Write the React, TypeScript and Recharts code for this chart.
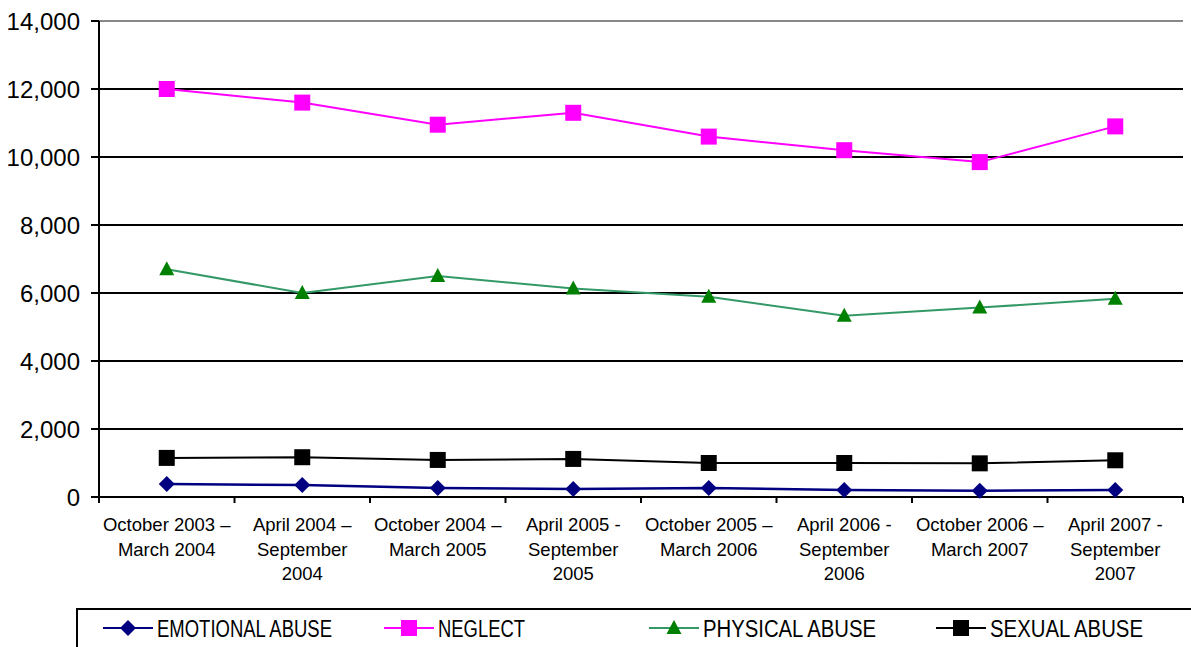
import { CartesianGrid, Line, LineChart, ReferenceLine, XAxis, YAxis } from "recharts";

const categories = [
  "October 2003 –\nMarch 2004",
  "April 2004 –\nSeptember\n2004",
  "October 2004 –\nMarch 2005",
  "April 2005 -\nSeptember\n2005",
  "October 2005 –\nMarch 2006",
  "April 2006 -\nSeptember\n2006",
  "October 2006 –\nMarch 2007",
  "April 2007 -\nSeptember\n2007",
];
const emotional = [380, 350, 265, 235, 265, 205, 185, 205];
const neglect = [12000, 11600, 10950, 11300, 10600, 10200, 9850, 10900];
const physical = [6700, 6000, 6500, 6130, 5890, 5330, 5570, 5830];
const sexual = [1150, 1170, 1090, 1120, 1000, 1000, 990, 1080];
const yTicks = [0, 2000, 4000, 6000, 8000, 10000, 12000, 14000];

const colors = {
  emotional: "#000080",
  neglect: "#ff00ff",
  physicalLine: "#339966",
  physicalDot: "#008000",
  sexual: "#000000",
};

const font = "'Liberation Sans', Arial, sans-serif";

// points sit at the middle of each category band, ticks at the band edges
const data = categories.map((c, i) => ({
  pos: i + 0.5,
  emotional: emotional[i],
  neglect: neglect[i],
  physical: physical[i],
  sexual: sexual[i],
}));
const xTicks = Array.from({ length: categories.length * 2 + 1 }, (_, i) => i / 2);

const fmt = (v: number) => new Intl.NumberFormat("en-US").format(v);

const Diamond = ({ cx, cy, index }: any) =>
  cx == null ? null : (
    <path key={index} d={`M${cx} ${cy - 8}L${cx + 8} ${cy}L${cx} ${cy + 8}L${cx - 8} ${cy}Z`} fill={colors.emotional} />
  );

const Square = (color: string) => ({ cx, cy, index }: any) =>
  cx == null ? null : <rect key={index} x={cx - 8} y={cy - 8} width={16} height={16} fill={color} />;

const Triangle = ({ cx, cy, index }: any) =>
  cx == null ? null : (
    <path key={index} d={`M${cx} ${cy - 8}L${cx + 7.5} ${cy + 6}L${cx - 7.5} ${cy + 6}Z`} fill={colors.physicalDot} />
  );

const XTick = ({ x, y, payload }: any) => {
  const v = payload.value as number;
  if (Number.isInteger(v)) {
    return <line x1={x} x2={x} y1={y} y2={y + 6} stroke="#000" strokeWidth={2} />;
  }
  const lines = categories[Math.floor(v)].split("\n");
  return (
    <text x={x} y={y} textAnchor="middle" fontSize={18.5} fontFamily={font} fill="#000">
      {lines.map((l, i) => (
        <tspan key={i} x={x} dy={i === 0 ? 34 : 24.5}>
          {l}
        </tspan>
      ))}
    </text>
  );
};

const legendItems = [
  { label: "EMOTIONAL ABUSE", x: 103, w: 175, color: colors.emotional, marker: "diamond" },
  { label: "NEGLECT", x: 384, w: 87, color: colors.neglect, marker: "square" },
  { label: "PHYSICAL ABUSE", x: 649, w: 173, color: colors.physicalLine, marker: "triangle" },
  { label: "SEXUAL ABUSE", x: 936, w: 153, color: colors.sexual, marker: "square" },
];

const LegendMarker = ({ cx, cy, kind, color }: { cx: number; cy: number; kind: string; color: string }) => {
  if (kind === "diamond") return <path d={`M${cx} ${cy - 8}L${cx + 8} ${cy}L${cx} ${cy + 8}L${cx - 8} ${cy}Z`} fill={color} />;
  if (kind === "triangle")
    return <path d={`M${cx} ${cy - 8}L${cx + 7.5} ${cy + 6}L${cx - 7.5} ${cy + 6}Z`} fill={colors.physicalDot} />;
  return <rect x={cx - 8} y={cy - 8} width={16} height={16} fill={color} />;
};

export default function App() {
  return (
    <div style={{ position: "absolute", left: 0, top: 0, width: 1191, height: 647, background: "#fff" }}>
      <LineChart width={1191} height={647} data={data} margin={{ top: 21, right: 8, left: 0, bottom: 0 }}>
        <CartesianGrid vertical={false} stroke="#000" strokeWidth={2} />
        <ReferenceLine y={14000} stroke="#888" strokeWidth={2} />
        <XAxis
          dataKey="pos"
          type="number"
          domain={[0, categories.length]}
          ticks={xTicks}
          interval={0}
          height={150}
          tickSize={0}
          tickMargin={0}
          tickLine={false}
          axisLine={{ stroke: "#000", strokeWidth: 2 }}
          tick={<XTick />}
        />
        <YAxis
          domain={[0, 14000]}
          ticks={yTicks}
          interval={0}
          width={99}
          tickSize={8}
          tickMargin={11}
          tickFormatter={fmt}
          tick={{ fontSize: 24, fontFamily: font, fill: "#000" }}
          tickLine={{ stroke: "#000", strokeWidth: 2 }}
          axisLine={{ stroke: "#000", strokeWidth: 2 }}
        />
        <YAxis
          yAxisId="right"
          orientation="right"
          domain={[0, 14000]}
          width={0}
          tick={false}
          tickLine={false}
          axisLine={{ stroke: "#888", strokeWidth: 2 }}
        />
        <Line dataKey="emotional" stroke={colors.emotional} strokeWidth={2.5} dot={Diamond} activeDot={false} isAnimationActive={false} />
        <Line dataKey="neglect" stroke={colors.neglect} strokeWidth={2} dot={Square(colors.neglect)} activeDot={false} isAnimationActive={false} />
        <Line dataKey="physical" stroke={colors.physicalLine} strokeWidth={2} dot={Triangle} activeDot={false} isAnimationActive={false} />
        <Line dataKey="sexual" stroke={colors.sexual} strokeWidth={2} dot={Square(colors.sexual)} activeDot={false} isAnimationActive={false} />
      </LineChart>
      <svg width={1191} height={647} style={{ position: "absolute", left: 0, top: 0, pointerEvents: "none" }}>
        <rect x={77} y={609} width={1200} height={100} fill="none" stroke="#000" strokeWidth={2} />
        {legendItems.map((it) => (
          <g key={it.label}>
            <line x1={it.x} x2={it.x + 50} y1={628} y2={628} stroke={it.color} strokeWidth={2} />
            <LegendMarker cx={it.x + 25} cy={628} kind={it.marker} color={it.color} />
            <text
              x={it.x + 54}
              y={636.5}
              fontSize={23}
              fontFamily={font}
              fill="#000"
              textLength={it.w}
              lengthAdjust="spacingAndGlyphs"
            >
              {it.label}
            </text>
          </g>
        ))}
      </svg>
    </div>
  );
}
